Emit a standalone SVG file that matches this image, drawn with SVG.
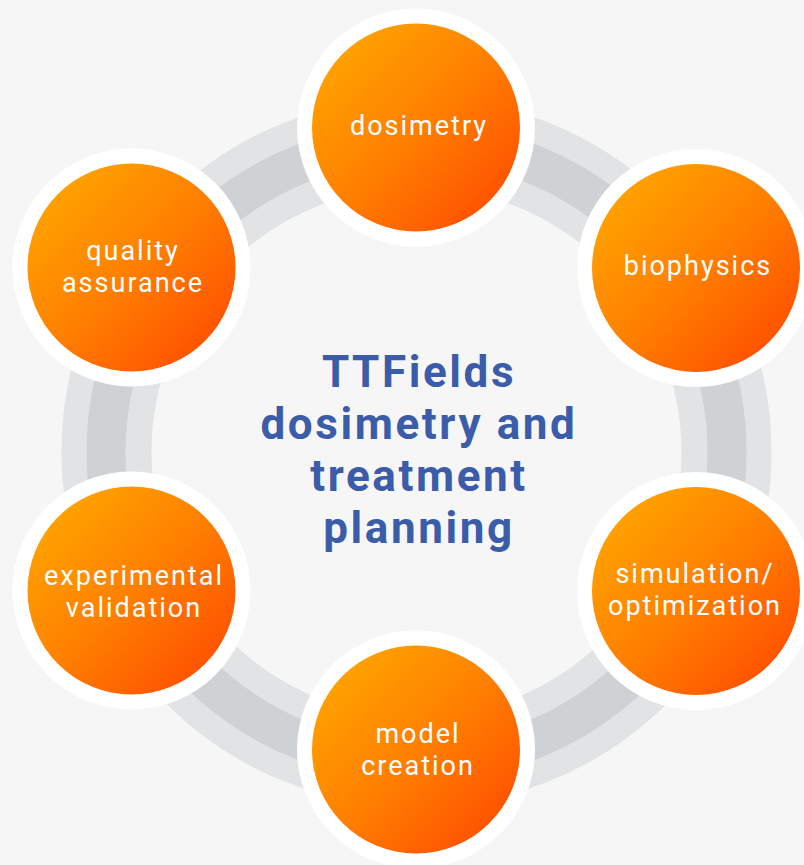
<svg xmlns="http://www.w3.org/2000/svg" width="804" height="865" viewBox="0 0 804 865">
  <defs>
    <linearGradient id="orangeFill" x1="0.15" y1="0.15" x2="0.85" y2="0.85">
      <stop offset="0" stop-color="#ffa000"/>
      <stop offset="0.5" stop-color="#ff8000"/>
      <stop offset="1" stop-color="#ff5500"/>
    </linearGradient>
    <style>
      .halo { fill: #ffffff; }
      .disc { fill: url(#orangeFill); }
      .label { font-family: Roboto, "Liberation Sans", sans-serif; font-size: 27px; fill: #ffffff; text-anchor: middle; letter-spacing: 2px; }
      .title { font-family: Roboto, "Liberation Sans", sans-serif; font-size: 44px; font-weight: 700; fill: #3b5ca9; text-anchor: middle; letter-spacing: 2.6px; }
      .ring-outer { fill: none; stroke: #e2e3e5; stroke-width: 90; }
      .ring-inner { fill: none; stroke: #cfd2d5; stroke-width: 39; }
    </style>
  </defs>

  <rect width="804" height="865" fill="#f6f6f6"/>

  <!-- cycle ring linking the topics -->
  <g id="connectors">
    <circle class="ring-outer" cx="416.5" cy="452" r="310"/>
    <circle class="ring-inner" cx="416.5" cy="452" r="310.5"/>
  </g>

  <g id="title">
    <text class="title" x="419" y="387">TTFields</text>
    <text class="title" x="419" y="439">dosimetry and</text>
    <text class="title" x="419" y="491">treatment</text>
    <text class="title" x="419" y="543">planning</text>
  </g>

  <g id="node-dosimetry">
    <circle class="halo" cx="416" cy="127.5" r="119"/>
    <circle class="disc" cx="416" cy="127.5" r="104"/>
    <text class="label" x="419" y="135">dosimetry</text>
  </g>

  <g id="node-biophysics">
    <circle class="halo" cx="696" cy="268" r="119"/>
    <circle class="disc" cx="696" cy="268" r="104"/>
    <text class="label" x="698" y="275">biophysics</text>
  </g>

  <g id="node-simulation">
    <circle class="halo" cx="696" cy="591" r="119"/>
    <circle class="disc" cx="696" cy="591" r="104"/>
    <text class="label" x="695" y="583">simulation/</text>
    <text class="label" x="695" y="615">optimization</text>
  </g>

  <g id="node-model-creation">
    <circle class="halo" cx="416" cy="749.5" r="119"/>
    <circle class="disc" cx="416" cy="749.5" r="104"/>
    <text class="label" x="418" y="743">model</text>
    <text class="label" x="418" y="775">creation</text>
  </g>

  <g id="node-experimental-validation">
    <circle class="halo" cx="131.5" cy="590.5" r="119"/>
    <circle class="disc" cx="131.5" cy="590.5" r="104"/>
    <text class="label" x="134" y="585">experimental</text>
    <text class="label" x="134" y="617">validation</text>
  </g>

  <g id="node-quality-assurance">
    <circle class="halo" cx="131.5" cy="267.5" r="119"/>
    <circle class="disc" cx="131.5" cy="267.5" r="104"/>
    <text class="label" x="133" y="260">quality</text>
    <text class="label" x="133" y="292">assurance</text>
  </g>
</svg>
